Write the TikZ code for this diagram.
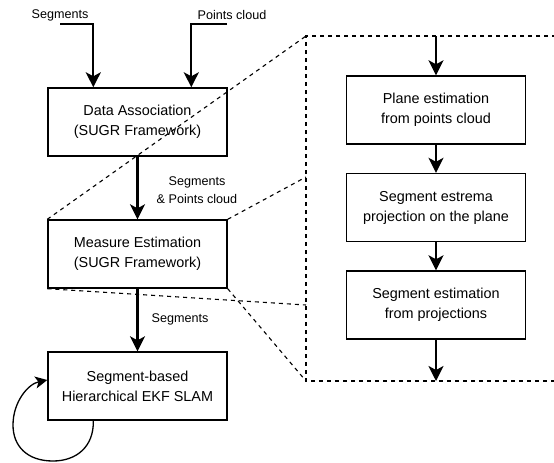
\documentclass[tikz,border=0pt]{standalone}
\usepackage{fontspec}
\setmainfont{Liberation Sans}
\usetikzlibrary{
	calc,
	arrows.meta,
}

\begin{document}
\begin{tikzpicture}[
                    x=1pt, y=-1pt,
                    block/.style={draw, line width=1.4pt, minimum width=179pt, minimum height=68pt,
                                  inner sep=0pt, align=center, font=\fontsize{14.4}{20}\selectfont},
                    lbl/.style={inner sep=0pt, align=center, font=\fontsize{12.6}{18}\selectfont},
                    flow/.style={line width=2.2pt, -{Stealth[length=15pt,width=15pt,inset=4pt]}},
                    zoomline/.style={line width=1.1pt, dash pattern=on 4pt off 4pt},
                ]
\useasboundingbox (0,0) rectangle (554,463);
% main chain
\node[block] (da)   at (137.5,122) {Data Association\\(SUGR Framework)};
\node[block] (me)   at (137.5,254) {Measure Estimation\\(SUGR Framework)};
\node[block] (slam) at (137.5,386) {Segment-based\\Hierarchical EKF SLAM};
% detail of the measure estimation
\node[block] (plane) at (436,110)   {Plane estimation\\from points cloud};
\node[block] (proj)  at (436,207.5) {Segment estrema\\projection on the plane};
\node[block] (segest) at (436,305)  {Segment estimation\\from projections};
% labels
\node[lbl] (segtxt)   at (60,15)   {Segments};
\node[lbl] (cloudtxt) at (232,15)  {Points cloud};
\node[lbl] (midtxt)   at (197,190) {Segments\\\& Points cloud};
\node[lbl] (outtxt)   at (180,319) {Segments};
\coordinate (segin)   at (60,24);
\coordinate (cloudin) at (227,24);
\coordinate (zt)  at (306,36);
\coordinate (zt2) at (306,177);
\coordinate (zb2) at (306,305);
\coordinate (zb)  at (306,381);
% zoom frame
\draw[zoomline] (556,36) -- (zt) -- (zb) -- (556,381);
\draw[zoomline] (me.north west) -- (zt);
\draw[zoomline] (me.north east) -- (zt2);
\draw[zoomline] (me.south west) -- (zb2);
\draw[zoomline] (me.south east) -- (zb);
% arrows
\draw[flow] (segin) -| ($(da.north west)+(46,0)$);
\draw[flow] (cloudin) -| ($(da.north west)+(144,0)$);
\draw[flow] (da) -- (me);
\draw[flow] (me) -- (slam);
\draw[flow] (plane.north |- zt) -- (plane);
\draw[flow] (plane) -- (proj);
\draw[flow] (proj) -- (segest);
\draw[flow] (segest) -- (segest.south |- zb);
\draw[line width=1.3pt, -{Stealth[length=12pt,width=12pt,inset=3pt]}]
    ($(slam.south west)+(46,0)$) .. controls (94,447) and (76,461) .. (53,461)
    .. controls (27,461) and (13,446) .. (13,425)
    .. controls (13,402) and (28,384) .. ($(slam.west)+(0,-6)$);
\end{tikzpicture}
\end{document}
